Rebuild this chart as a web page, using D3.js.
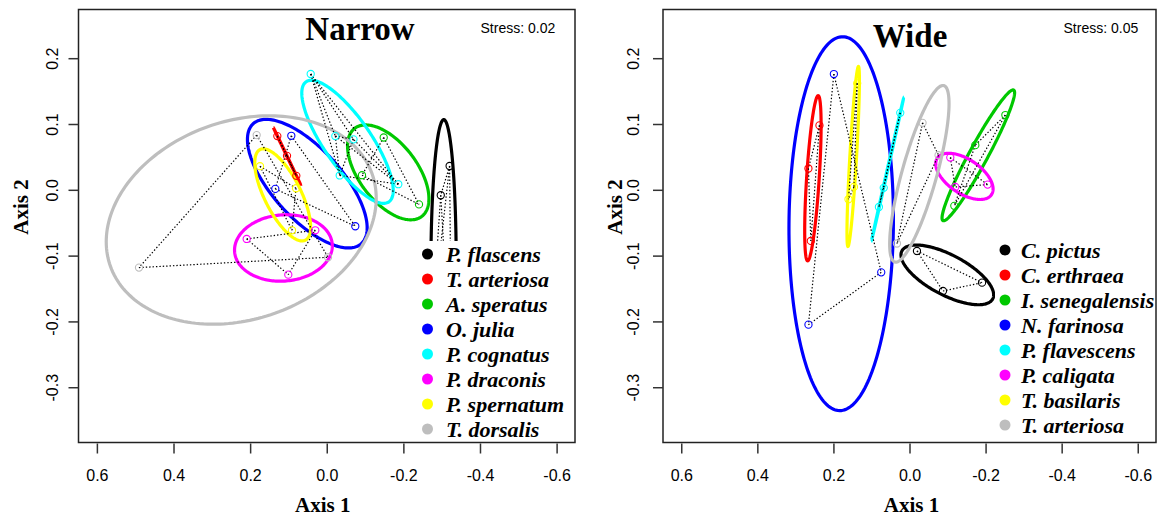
<!DOCTYPE html>
<html>
<head>
<meta charset="utf-8">
<script src="https://cdn.jsdelivr.net/npm/d3@7"></script>
<style>
  body { margin: 0; background: #fff; }
  text { fill: #000; }
</style>
</head>
<body>
<svg id="chart" width="1160" height="515"></svg>
<script>
// colour of each species, same order in both panels
const speciesColors = ["#000000", "#ff0000", "#00c800", "#0000ff", "#00ffff", "#ff00ff", "#ffff00", "#bebebe"];

const xTicks = [0.6, 0.4, 0.2, 0.0, -0.2, -0.4, -0.6];
const yTicks = [0.2, 0.1, 0.0, -0.1, -0.2, -0.3];

// Narrow panel - NMDS scores per species
const narrowSpecies = ["P. flascens", "T. arteriosa", "A. speratus", "O. julia",
                       "P. cognatus", "P. draconis", "P. spernatum", "T. dorsalis"];
const narrowAxis1 = [
  [-0.3207, -0.2976, -0.2750, -0.3260],
  [0.1290, 0.1037, 0.0794],
  [-0.1487, -0.0920, -0.2408],
  [0.0925, 0.1343, -0.0745],
  [0.0419, -0.0224, -0.0338, -0.1868, -0.0698],
  [0.2090, 0.0299, 0.1004],
  [0.1742, 0.0802, 0.0907],
  [0.1829, 0.4901, -0.0033]
];
const narrowAxis2 = [
  [0.0362, -0.0082, -0.2000, -0.3000],
  [0.0816, 0.0516, 0.0212],
  [0.0795, 0.0222, -0.0222],
  [0.0821, 0.0014, -0.0554],
  [0.1760, 0.0816, 0.0218, 0.0085, 0.0767],
  [-0.0747, -0.0615, -0.1289],
  [0.0359, 0.0024, -0.0615],
  [0.0831, -0.1182, -0.1025]
];

// Wide panel
const wideSpecies = ["C. pictus", "C. erthraea", "I. senegalensis", "N. farinosa",
                     "P. flavescens", "P. caligata", "T. basilaris", "T. arteriosa"];
const wideAxis1 = [
  [-0.0196, -0.0880, -0.1907],
  [0.2367, 0.2657, 0.2594],
  [-0.2520, -0.1730, -0.1178],
  [0.1988, 0.0743, 0.2656],
  [0.0243, 0.0678, 0.0804],
  [-0.1072, -0.2054, -0.1204],
  [0.1375, 0.1461, 0.1604],
  [-0.0343, -0.0764, 0.0330]
];
const wideAxis2 = [
  [-0.0930, -0.1538, -0.1411],
  [0.0979, 0.0324, -0.0777],
  [0.1136, 0.0679, -0.0244],
  [0.1759, -0.1254, -0.2049],
  [0.1170, 0.0030, -0.0261],
  [0.0490, 0.0079, 0.0043],
  [0.1618, 0.0044, -0.0143],
  [0.1018, 0.0526, -0.0816]
];

const svg = d3.select("#chart");
const plotTop = 9.5, plotBottom = 442.5;

// sd ellipse (scaled by sqrt 2) built from the points of one group
function groupEllipse(xs, ys) {
  const n = xs.length;
  const mx = d3.mean(xs), my = d3.mean(ys);
  let sxx = 0, syy = 0, sxy = 0;
  for (let i = 0; i < n; i++) {
    sxx += (xs[i] - mx) ** 2;
    syy += (ys[i] - my) ** 2;
    sxy += (xs[i] - mx) * (ys[i] - my);
  }
  const sx = Math.sqrt(sxx / (n - 1)), sy = Math.sqrt(syy / (n - 1));
  let r = sxy / (n - 1) / (sx * sy);
  if (!isFinite(r)) r = 0;
  r = Math.max(-1, Math.min(1, r));
  const s = Math.sqrt(1 - r * r);
  const k = Math.SQRT2;
  return d3.range(0, 201).map(i => {
    const t = 2 * Math.PI * i / 200;
    return [mx + k * sx * Math.cos(t), my + k * sy * (r * Math.cos(t) + s * Math.sin(t))];
  });
}

function drawPanel(cfg) {
  const x = d3.scaleLinear().domain([0.648, -0.648]).range([cfg.left, cfg.right]);
  const y = d3.scaleLinear().domain([0.274, -0.384]).range([plotTop, plotBottom]);
  const g = svg.append("g");

  const clipId = "clip-" + cfg.id;
  svg.append("clipPath").attr("id", clipId)
    .append("rect").attr("x", cfg.left).attr("y", plotTop)
    .attr("width", cfg.right - cfg.left).attr("height", plotBottom - plotTop);
  const plot = g.append("g").attr("clip-path", `url(#${clipId})`);

  // ellipses
  const line = d3.line().x(d => x(d[0])).y(d => y(d[1]));
  cfg.ax1.forEach((xs, i) => {
    plot.append("path")
      .attr("d", line(groupEllipse(xs, cfg.ax2[i])))
      .attr("fill", "none")
      .attr("stroke", speciesColors[i])
      .attr("stroke-width", 3.2);
  });

  // dotted links between points of the same group
  cfg.ax1.forEach((xs, i) => {
    const ys = cfg.ax2[i];
    for (let a = 0; a < xs.length; a++) {
      for (let b = a + 1; b < xs.length; b++) {
        plot.append("line")
          .attr("x1", x(xs[a])).attr("y1", y(ys[a]))
          .attr("x2", x(xs[b])).attr("y2", y(ys[b]))
          .attr("stroke", "#000")
          .attr("stroke-width", 1.2)
          .attr("stroke-dasharray", "1.4,2");
      }
    }
  });

  // points
  cfg.ax1.forEach((xs, i) => {
    plot.selectAll(null)
      .data(xs.map((v, j) => [v, cfg.ax2[i][j]]))
      .enter()
      .append("circle")
      .attr("cx", d => x(d[0]))
      .attr("cy", d => y(d[1]))
      .attr("r", 3.6)
      .attr("fill", "none")
      .attr("stroke", speciesColors[i])
      .attr("stroke-width", 1.1);
  });

  // legend (white background hides what lies beneath)
  g.append("rect")
    .attr("x", cfg.legendBgX).attr("y", cfg.legendY - 13)
    .attr("width", cfg.right - cfg.legendBgX - 1)
    .attr("height", plotBottom - cfg.legendY + 12)
    .attr("fill", "#fff");
  cfg.species.forEach((name, i) => {
    const ly = cfg.legendY + i * 25;
    g.append("circle")
      .attr("cx", cfg.legendX).attr("cy", ly).attr("r", 5.5)
      .attr("fill", speciesColors[i]);
    g.append("text")
      .attr("x", cfg.legendX + cfg.legendGap).attr("y", ly + 7.5)
      .style("font-family", "'Liberation Serif', 'Times New Roman', serif")
      .style("font-weight", "bold").style("font-style", "italic")
      .style("font-size", "22px")
      .text(name);
  });

  // box
  g.append("rect")
    .attr("x", cfg.left).attr("y", plotTop)
    .attr("width", cfg.right - cfg.left).attr("height", plotBottom - plotTop)
    .attr("fill", "none").attr("stroke", "#222").attr("stroke-width", 1.5);

  // axes
  const xAxis = g.append("g")
    .attr("transform", `translate(0,${plotBottom + 1})`)
    .call(d3.axisBottom(x).tickValues(xTicks).tickSize(10).tickSizeOuter(0)
      .tickFormat(d => d.toFixed(1)));
  xAxis.select(".domain").remove();
  xAxis.selectAll(".tick line").attr("stroke", "#333").attr("stroke-width", 1.5);
  xAxis.selectAll(".tick text")
    .attr("y", 37.5).attr("dy", 0)
    .style("font-family", "'Liberation Sans', Arial, sans-serif")
    .style("font-size", "16px");

  const yAxis = g.append("g")
    .attr("transform", `translate(${cfg.left},0)`)
    .call(d3.axisLeft(y).tickValues(yTicks).tickSize(10).tickSizeOuter(0)
      .tickFormat(d => d.toFixed(1)));
  yAxis.select(".domain").remove();
  yAxis.selectAll(".tick line").attr("stroke", "#333").attr("stroke-width", 1.5);
  yAxis.selectAll(".tick text")
    .attr("x", 0).attr("dy", 0)
    .attr("text-anchor", "middle")
    .attr("transform", `translate(${cfg.yTickLabX - cfg.left + 5.7},0) rotate(-90)`)
    .style("font-family", "'Liberation Sans', Arial, sans-serif")
    .style("font-size", "16px");

  // axis titles
  g.append("text")
    .attr("x", (cfg.left + cfg.right) / 2 + cfg.xlabShift).attr("y", 511.5)
    .attr("text-anchor", "middle")
    .style("font-family", "'Liberation Serif', 'Times New Roman', serif")
    .style("font-weight", "bold").style("font-size", "21px")
    .text("Axis 1");
  g.append("text")
    .attr("transform", `translate(${cfg.ylabX + 7},207) rotate(-90)`)
    .attr("text-anchor", "middle")
    .style("font-family", "'Liberation Serif', 'Times New Roman', serif")
    .style("font-weight", "bold").style("font-size", "21px")
    .text("Axis 2");

  // panel title and stress
  g.append("text")
    .attr("x", cfg.titleX).attr("y", cfg.titleY)
    .attr("text-anchor", "middle")
    .style("font-family", "'Liberation Serif', 'Times New Roman', serif")
    .style("font-weight", "bold").style("font-size", "33px")
    .text(cfg.title);
  g.append("text")
    .attr("x", cfg.stressX).attr("y", cfg.stressY)
    .style("font-family", "'Liberation Sans', Arial, sans-serif")
    .style("font-size", "14px")
    .text(cfg.stress);
}

drawPanel({
  id: "narrow", left: 78.5, right: 575,
  species: narrowSpecies, ax1: narrowAxis1, ax2: narrowAxis2,
  title: "Narrow", titleX: 360, titleY: 39.5,
  stress: "Stress: 0.02", stressX: 480.5, stressY: 32.5,
  legendX: 427.5, legendY: 254, legendBgX: 416, legendGap: 18.5,
  yTickLabX: 52, ylabX: 21, xlabShift: -4
});

drawPanel({
  id: "wide", left: 663, right: 1156,
  species: wideSpecies, ax1: wideAxis1, ax2: wideAxis2,
  title: "Wide", titleX: 910, titleY: 46.5,
  stress: "Stress: 0.05", stressX: 1063.5, stressY: 33,
  legendX: 1005, legendY: 250, legendBgX: 995, legendGap: 16,
  yTickLabX: 633.3, ylabX: 615, xlabShift: 2
});
</script>
</body>
</html>
